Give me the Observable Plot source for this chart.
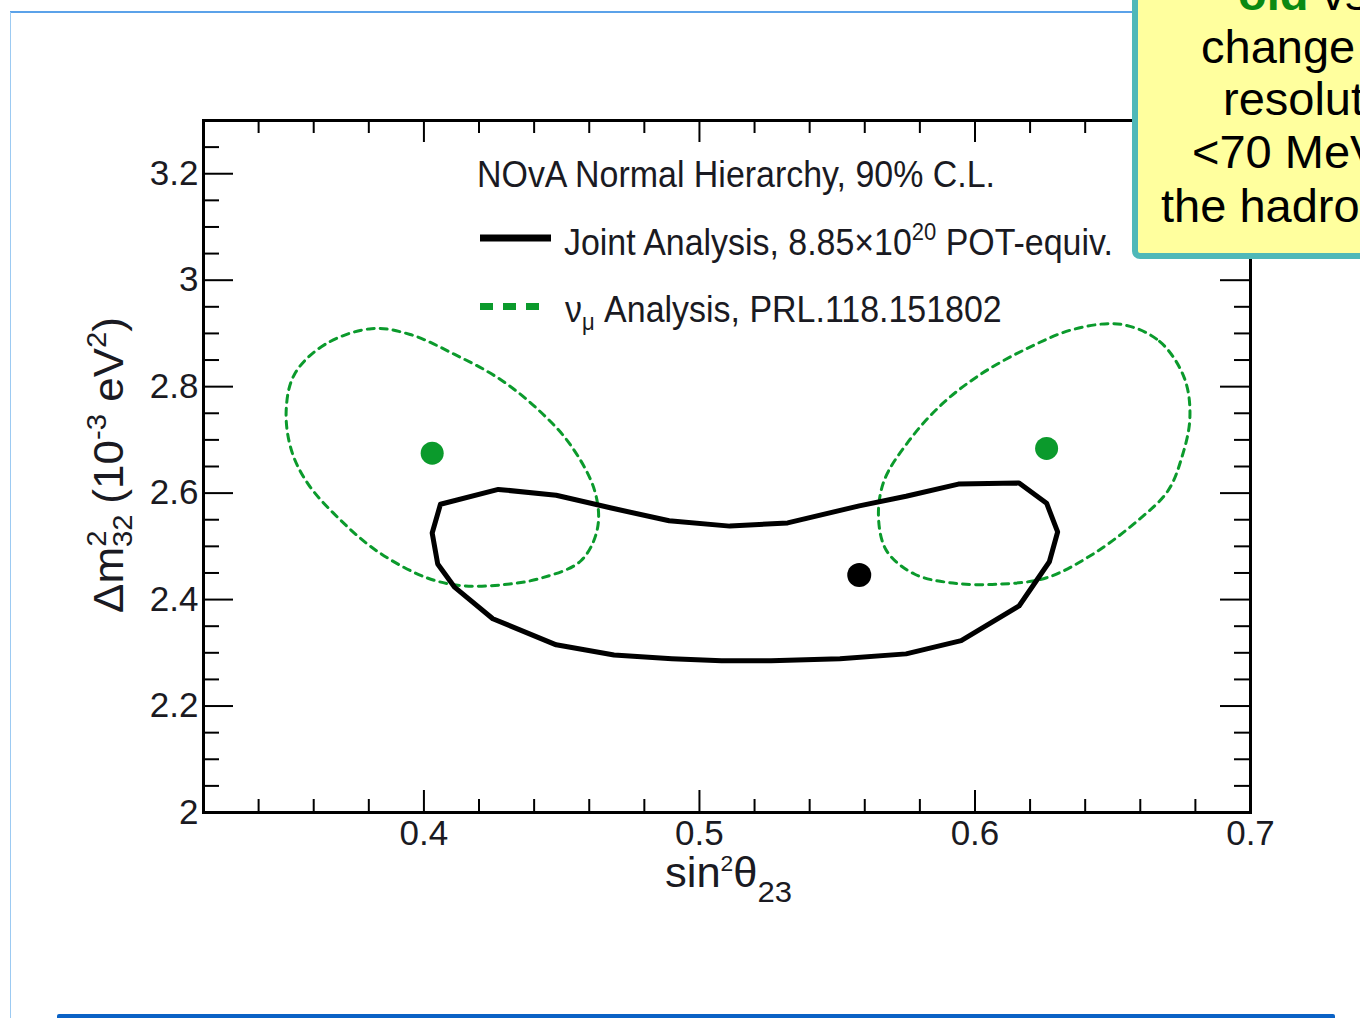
<!DOCTYPE html>
<html>
<head>
<meta charset="utf-8">
<script src="https://cdn.jsdelivr.net/npm/d3@7"></script>
<script src="https://cdn.jsdelivr.net/npm/@observablehq/plot@0.6"></script>
<style>
html, body { margin: 0; padding: 0; background: #fff; }
#page { position: relative; width: 1360px; height: 1018px; overflow: hidden; background: #fff; }
#chart { position: absolute; left: 0; top: 0; }
#overlay { position: absolute; left: 0; top: 0; pointer-events: none; }
</style>
</head>
<body>
<div id="page">
  <div id="chart"></div>
  <svg id="overlay" width="1360" height="1018"></svg>
</div>
<script>
// ---------- data ----------
const xMajorTicks = [0.4, 0.5, 0.6, 0.7];
const xTickLabels = ["0.4", "0.5", "0.6", "0.7"];
const xMinorTicks = [0.34, 0.36, 0.38, 0.42, 0.44, 0.46, 0.48, 0.52, 0.54, 0.56, 0.58, 0.62, 0.64, 0.66, 0.68];
const yMajorTicks = [2, 2.2, 2.4, 2.6, 2.8, 3, 3.2];
const yTickLabels = ["2", "2.2", "2.4", "2.6", "2.8", "3", "3.2"];
const yMinorTicks = [2.05, 2.1, 2.15, 2.25, 2.3, 2.35, 2.45, 2.5, 2.55, 2.65, 2.7, 2.75, 2.85, 2.9, 2.95, 3.05, 3.1, 3.15, 3.25];

// Joint analysis 90% C.L. contour (sin^2 theta23, dm2_32)
const jointContour = [
  [0.406, 2.579], [0.427, 2.607], [0.448, 2.596], [0.468, 2.572], [0.489, 2.548],
  [0.511, 2.538], [0.532, 2.544], [0.558, 2.576], [0.575, 2.594], [0.594, 2.617],
  [0.616, 2.619], [0.626, 2.581], [0.630, 2.527], [0.627, 2.471], [0.616, 2.388],
  [0.595, 2.323], [0.575, 2.298], [0.551, 2.289], [0.526, 2.285], [0.508, 2.285],
  [0.490, 2.289], [0.469, 2.296], [0.448, 2.315], [0.425, 2.364], [0.411, 2.424],
  [0.405, 2.467], [0.403, 2.525]
];
// nu_mu analysis contours (lower and upper octant)
const numuContourLower = [
  [0.381, 2.909], [0.364, 2.879], [0.353, 2.823], [0.350, 2.754], [0.352, 2.679],
  [0.358, 2.617], [0.369, 2.553], [0.383, 2.491], [0.401, 2.441], [0.414, 2.426],
  [0.429, 2.428], [0.443, 2.441], [0.457, 2.473], [0.463, 2.534], [0.462, 2.604],
  [0.453, 2.692], [0.441, 2.759], [0.427, 2.816], [0.411, 2.861], [0.395, 2.898]
];
const numuContourUpper = [
  [0.653, 2.917], [0.667, 2.885], [0.676, 2.816], [0.678, 2.741], [0.675, 2.666],
  [0.670, 2.604], [0.659, 2.548], [0.643, 2.486], [0.626, 2.441], [0.609, 2.429],
  [0.592, 2.431], [0.578, 2.448], [0.568, 2.491], [0.565, 2.553], [0.567, 2.623],
  [0.576, 2.698], [0.588, 2.767], [0.602, 2.823], [0.619, 2.872], [0.636, 2.908]
];
const jointBestFit = [[0.558, 2.446]];
const numuBestFit = [[0.403, 2.675], [0.626, 2.684]];

// ---------- styles ----------
const GREEN = "#0b9a2c";
const TEXT = "#1a1a22";
const FONT = "'Liberation Sans', Arial, Helvetica, sans-serif";
const W = 1360, H = 940;
const M = {left: 203, right: 110, top: 120, bottom: 128};
const frameW = W - M.left - M.right;   // 1047
const frameH = H - M.top - M.bottom;   // 692

const px = d => d[0], py = d => d[1];

const chart = Plot.plot({
  width: W, height: H,
  marginLeft: M.left, marginRight: M.right, marginTop: M.top, marginBottom: M.bottom,
  x: {domain: [0.32, 0.7]},
  y: {domain: [2, 3.3]},
  style: {fontFamily: FONT, fontSize: "35px", color: TEXT, background: "transparent", overflow: "visible"},
  marks: [
    // contours
    Plot.line(numuContourLower, {x: px, y: py, curve: "catmull-rom-closed", stroke: GREEN, strokeWidth: 3, strokeDasharray: "7,6"}),
    Plot.line(numuContourUpper, {x: px, y: py, curve: "catmull-rom-closed", stroke: GREEN, strokeWidth: 3, strokeDasharray: "7,6"}),
    Plot.line(jointContour, {x: px, y: py, curve: "linear-closed", stroke: "#000", strokeWidth: 5, strokeLinejoin: "round"}),
    Plot.dot(numuBestFit, {x: px, y: py, r: 11.5, fill: GREEN, stroke: "none"}),
    Plot.dot(jointBestFit, {x: px, y: py, r: 12, fill: "#000", stroke: "none"}),
    // inward ticks: bottom/top
    Plot.tickX(xMajorTicks, {x: d => d, insetTop: frameH - 22, stroke: "#000", strokeWidth: 2}),
    Plot.tickX(xMajorTicks, {x: d => d, insetBottom: frameH - 22, stroke: "#000", strokeWidth: 2}),
    Plot.tickX(xMinorTicks, {x: d => d, insetTop: frameH - 13, stroke: "#000", strokeWidth: 2}),
    Plot.tickX(xMinorTicks, {x: d => d, insetBottom: frameH - 13, stroke: "#000", strokeWidth: 2}),
    // inward ticks: left/right
    Plot.tickY(yMajorTicks, {y: d => d, insetRight: frameW - 30, stroke: "#000", strokeWidth: 2}),
    Plot.tickY(yMajorTicks, {y: d => d, insetLeft: frameW - 30, stroke: "#000", strokeWidth: 2}),
    Plot.tickY(yMinorTicks, {y: d => d, insetRight: frameW - 16, stroke: "#000", strokeWidth: 2}),
    Plot.tickY(yMinorTicks, {y: d => d, insetLeft: frameW - 16, stroke: "#000", strokeWidth: 2}),
    // tick labels
    Plot.axisX(xMajorTicks, {tickSize: 0, tickPadding: 8, label: null, fontSize: 35, fill: TEXT,
      tickFormat: d => xTickLabels[xMajorTicks.indexOf(d)]}),
    Plot.axisY(yMajorTicks, {tickSize: 0, tickPadding: 5, label: null, fontSize: 35, fill: TEXT,
      tickFormat: d => yTickLabels[yMajorTicks.indexOf(d)]}),
    Plot.frame({stroke: "#000", strokeWidth: 3})
  ]
});
document.getElementById("chart").appendChild(chart);

// ---------- overlay: slide decoration, legend, axis titles ----------
const ov = d3.select("#overlay");

function fit(sel, target) {
  const w = sel.node().getBBox().width;
  const x = +sel.attr("x") || 0, y = +sel.attr("y") || 0;
  const s = target / w;
  sel.attr("transform", `translate(${x},${y}) scale(${s},1) translate(${-x},${-y})`);
}

// slide frame lines
ov.append("line").attr("x1", 10).attr("x2", 1140).attr("y1", 12).attr("y2", 12)
  .attr("stroke", "#2483e2").attr("stroke-width", 1.5);
ov.append("line").attr("x1", 10.5).attr("x2", 10.5).attr("y1", 12).attr("y2", 1018)
  .attr("stroke", "#9ccaf2").attr("stroke-width", 1);
ov.append("rect").attr("x", 57).attr("y", 1014).attr("width", 1278).attr("height", 6).attr("rx", 2)
  .attr("fill", "#0a62c6");

// yellow note box (partly outside the slide view, as in the reference)
ov.append("rect").attr("x", 1135).attr("y", -30).attr("width", 260).attr("height", 286).attr("rx", 5)
  .attr("fill", "#ffff9e").attr("stroke", "#4fb8b8").attr("stroke-width", 6);
const noteSize = 47;
const t0 = ov.append("text").attr("x", 1238).attr("y", 10).attr("font-family", FONT).attr("font-size", noteSize).attr("fill", "#000");
t0.append("tspan").attr("font-weight", "bold").attr("fill", "#0a8a12").text("old");
t0.append("tspan").text(" vs");
[["change", 1201, 63], ["resolut", 1223, 115], ["<70 MeV", 1192, 168], ["the hadro", 1161, 222]].forEach(([s, x, y]) => {
  ov.append("text").attr("x", x).attr("y", y).attr("font-family", FONT).attr("font-size", noteSize)
    .attr("fill", "#000").text(s);
});

// legend
const lg = ov.append("g").attr("font-family", FONT).attr("fill", TEXT);
const l1 = lg.append("text").attr("x", 477).attr("y", 187).attr("font-size", 37).text("NOvA Normal Hierarchy, 90% C.L.");
fit(l1, 518);
lg.append("line").attr("x1", 480).attr("x2", 551).attr("y1", 238).attr("y2", 238)
  .attr("stroke", "#000").attr("stroke-width", 7);
const l2 = lg.append("text").attr("x", 564).attr("y", 255).attr("font-size", 37);
l2.append("tspan").text("Joint Analysis, 8.85\u00d710");
l2.append("tspan").attr("font-size", 24).attr("dy", -15).text("20");
l2.append("tspan").attr("dy", 15).text(" POT-equiv.");
fit(l2, 549);
lg.append("line").attr("x1", 480).attr("x2", 540).attr("y1", 306.5).attr("y2", 306.5)
  .attr("stroke", GREEN).attr("stroke-width", 7).attr("stroke-dasharray", "13,10");
const l3 = lg.append("text").attr("x", 565).attr("y", 322).attr("font-size", 37);
l3.append("tspan").text("\u03bd");
l3.append("tspan").attr("font-size", 24).attr("dy", 8).text("\u03bc");
l3.append("tspan").attr("dy", -8).text(" Analysis, PRL.118.151802");
fit(l3, 437);

// x axis title
const xt = ov.append("text").attr("x", 665).attr("y", 887).attr("font-family", FONT).attr("font-size", 42).attr("fill", TEXT);
xt.append("tspan").text("sin");
xt.append("tspan").attr("font-size", 22).attr("dy", -16).text("2");
xt.append("tspan").attr("dy", 16).text("\u03b8");
xt.append("tspan").attr("font-size", 30).attr("dy", 15).text("23");
fit(xt, 127);

// y axis title (rotated)
const yg = ov.append("g").attr("transform", "translate(123,465) rotate(-90)");
const yt = yg.append("text").attr("x", 0).attr("y", 0).attr("text-anchor", "middle")
  .attr("font-family", FONT).attr("font-size", 42).attr("fill", TEXT);
yt.append("tspan").text("\u0394m");
yt.append("tspan").attr("font-size", 28).attr("dy", 9).text("32");
yt.append("tspan").attr("font-size", 28).attr("dx", -31).attr("dy", -26).text("2");
yt.append("tspan").attr("dx", 14).attr("dy", 17).text(" (10");
yt.append("tspan").attr("font-size", 28).attr("dy", -17).text("-3");
yt.append("tspan").attr("dy", 17).text(" eV");
yt.append("tspan").attr("font-size", 28).attr("dy", -17).text("2");
yt.append("tspan").attr("dy", 17).text(")");
fit(yt, 296);
</script>
</body>
</html>
